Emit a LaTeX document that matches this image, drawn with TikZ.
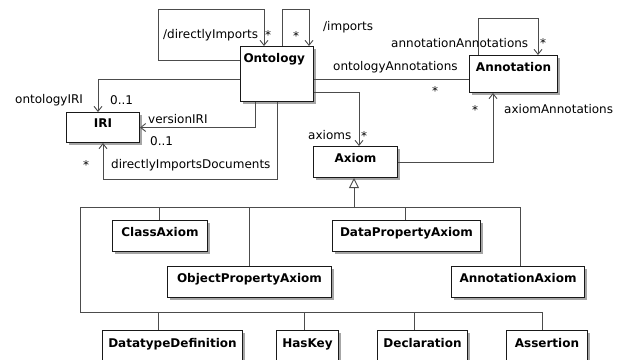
\documentclass[tikz,border=0pt]{standalone}
\usepackage{fontspec}
\setmainfont{DejaVu Sans}
\usetikzlibrary{arrows.meta,shadows}
\begin{document}
\begin{tikzpicture}[x=1pt,y=-1pt,
  cls/.style={draw=black!90, line width=1pt, fill=white, inner sep=0pt, anchor=north west,
    font=\fontsize{12}{14}\selectfont\bfseries,
    drop shadow={shadow xshift=2.5pt, shadow yshift=-2.5pt, fill=black!35, opacity=1}},
  lbl/.style={anchor=base west, inner sep=0pt, font=\fontsize{12}{14}\selectfont},
  mult/.style={anchor=base, inner sep=0pt, font=\fontsize{12}{14}\selectfont},
  conn/.style={draw=black!70, line width=0.9pt},
  nav/.style={conn, -{Straight Barb[length=5pt,width=8pt]}},
  gen/.style={conn, {Triangle[open,length=10pt,width=10pt,fill=white]}-},
]
\useasboundingbox (0,0) rectangle (629,359);
\clip (0,0) rectangle (629,359);

% classes
\node[cls, text width=67pt, align=left, inner xsep=3pt, text height=15.5pt, text depth=39.5pt] (onto) at (240,46) {Ontology};
\node[cls, minimum width=73pt, text height=15pt, text depth=15pt] (iri) at (66,112) {IRI};
\node[cls, minimum width=88pt, text height=16pt, text depth=21pt] (annot) at (469,55) {Annotation};
\node[cls, minimum width=84pt, text height=16pt, text depth=15pt] (axiom) at (313,146) {Axiom};
\node[cls, minimum width=95pt, text height=16pt, text depth=15pt] (classax) at (112,220) {ClassAxiom};
\node[cls, minimum width=164pt, text height=16pt, text depth=15pt] (opa) at (167,266) {ObjectPropertyAxiom};
\node[cls, minimum width=148pt, text height=16pt, text depth=15pt] (dpa) at (332,220) {DataPropertyAxiom};
\node[cls, minimum width=133pt, text height=16pt, text depth=15pt] (aa) at (451,266) {AnnotationAxiom};
\node[cls, minimum width=140pt, text height=16.5pt, text depth=16pt] (dd) at (102,330) {DatatypeDefinition};
\node[cls, minimum width=62pt, text height=16.5pt, text depth=16pt] (haskey) at (276,330) {HasKey};
\node[cls, minimum width=90pt, text height=16.5pt, text depth=16pt] (decl) at (377,330) {Declaration};
\node[cls, minimum width=81pt, text height=16.5pt, text depth=16pt] (assert) at (506,330) {Assertion};

% associations
\draw[nav] ([yshift=-14pt]onto.north west) -- (158,60) -- (158,9) -| ([xshift=24pt]onto.north west);
\draw[nav] ([xshift=42pt]onto.north west) -- (282,9) -| ([xshift=69pt]onto.north west);
\draw[nav] ([yshift=-33pt]onto.north west) -| ([xshift=32pt]iri.north west);
\draw[nav] ([xshift=15pt]onto.south west) |- (iri.east);
\draw[nav] ([xshift=37pt]onto.south west) -- (277,179) -| ([xshift=37pt]iri.south west);
\draw[conn] ([yshift=-33pt]onto.north east) -- ([yshift=-24pt]annot.north west);
\draw[nav] ([yshift=-46pt]onto.north east) -| ([xshift=46pt]axiom.north west);
\draw[nav] ([yshift=-16pt]axiom.north east) -| ([xshift=24pt]annot.south west);
\draw[nav] ([xshift=9pt]annot.north west) -- (478,18) -| ([xshift=69pt]annot.north west);

% generalization tree
\coordinate (bus1l) at (80,207);
\coordinate (bus1r) at (520,207);
\coordinate (bus2l) at (80,312);
\coordinate (bus2r) at (542,312);
\draw[gen] ([xshift=41pt]axiom.south west) -- (354,207);
\draw[conn] (bus2l) -- (bus1l) -- (bus1r) -- ([xshift=69pt]aa.north west);
\draw[conn] (bus2l) -- (bus2r) -- ([xshift=36pt]assert.north west);
\draw[conn] ([xshift=47pt]classax.north west) -- ++(0,-13);
\draw[conn] ([xshift=82pt]opa.north west) -- ++(0,-59);
\draw[conn] ([xshift=73pt]dpa.north west) -- ++(0,-13);
\draw[conn] ([xshift=56pt]dd.north west) -- ++(0,-18);
\draw[conn] ([xshift=28pt]haskey.north west) -- ++(0,-18);
\draw[conn] ([xshift=37pt]decl.north west) -- ++(0,-18);

% labels
\node[lbl] (l1) at (163,38) {/directlyImports};
\node[lbl] (l2) at (323,30) {/imports};
\node[lbl] (l3) at (391,47) {annotationAnnotations};
\node[lbl] (l4) at (333,70) {ontologyAnnotations};
\node[lbl] (l5) at (15,103.5) {ontologyIRI};
\node[lbl] (l6) at (110,104) {0..1};
\node[lbl] (l7) at (148,123) {versionIRI};
\node[lbl] (l8) at (150,145) {0..1};
\node[lbl] (l9) at (111,168) {directlyImportsDocuments};
\node[lbl] (l10) at (308,139.5) {axioms};
\node[lbl] (l11) at (504,113.5) {axiomAnnotations};
\node[mult] (m1) at (268,39) {*};
\node[mult] (m2) at (296,40) {*};
\node[mult] (m3) at (543,47) {*};
\node[mult] (m4) at (435,95) {*};
\node[mult] (m5) at (475,114) {*};
\node[mult] (m6) at (364,140) {*};
\node[mult] (m7) at (86,169) {*};
\end{tikzpicture}
\end{document}
